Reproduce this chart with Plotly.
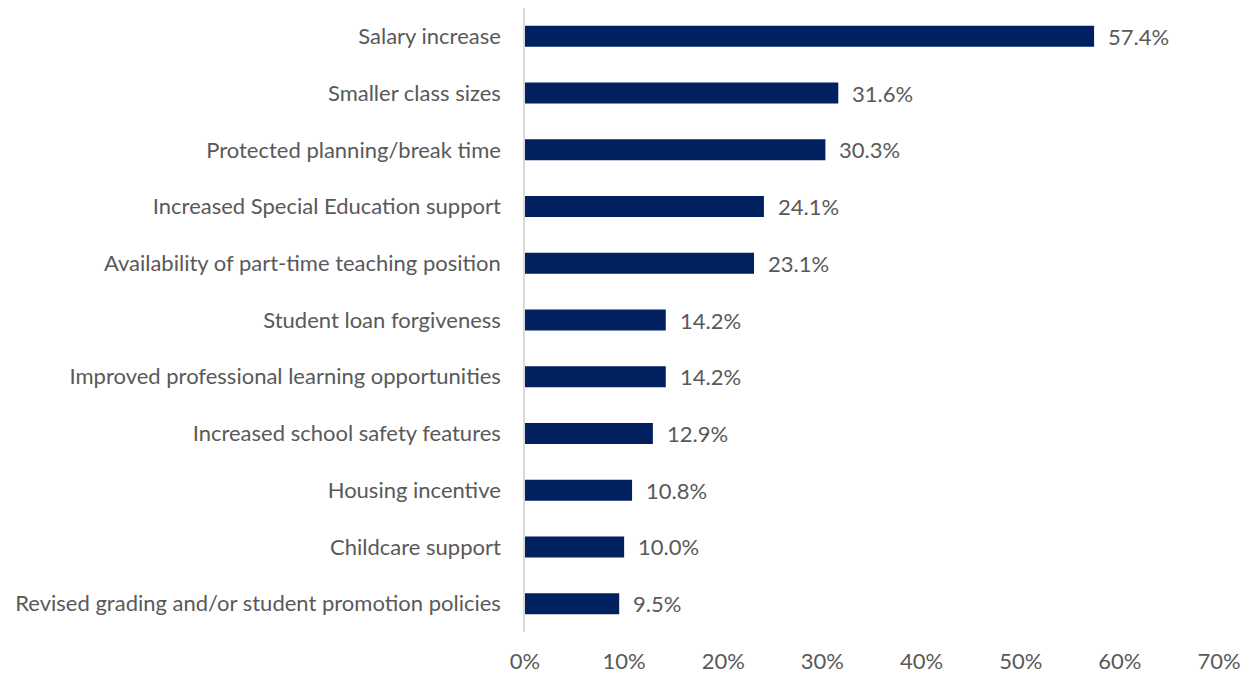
import plotly.graph_objects as go

# Survey items, listed top to bottom
categories = [
    "Salary increase",
    "Smaller class sizes",
    "Protected planning/break time",
    "Increased Special Education support",
    "Availability of part-time teaching position",
    "Student loan forgiveness",
    "Improved professional learning opportunities",
    "Increased school safety features",
    "Housing incentive",
    "Childcare support",
    "Revised grading and/or student promotion policies",
]
shares = [57.4, 31.6, 30.3, 24.1, 23.1, 14.2, 14.2, 12.9, 10.8, 10.0, 9.5]
x_ticks = [0, 10, 20, 30, 40, 50, 60, 70]
x_tick_labels = [f"{t}%" for t in x_ticks]

FONT = "Lato"
FONT_SIZE = 22
TEXT_COLOR = "#595959"
BAR_COLOR = "#002060"

# Plot bottom-up so the first item sits at the top
cats_r = categories[::-1]
vals_r = shares[::-1]

fig = go.Figure(
    go.Bar(
        x=vals_r,
        y=cats_r,
        orientation="h",
        marker=dict(color=BAR_COLOR, line=dict(width=0)),
        width=0.37,
        hoverinfo="skip",
    )
)

for c, v in zip(cats_r, vals_r):
    fig.add_annotation(
        x=v, y=c, text=f"{v:.1f}%", showarrow=False,
        xanchor="left", xshift=12,
        font=dict(family=FONT, size=FONT_SIZE, color=TEXT_COLOR),
    )

fig.update_layout(
    width=1248, height=675,
    margin=dict(l=525, r=29, t=8, b=43),
    paper_bgcolor="white", plot_bgcolor="white",
    showlegend=False,
    font=dict(family=FONT, size=FONT_SIZE, color=TEXT_COLOR),
    xaxis=dict(
        range=[0, 70], tickvals=x_ticks, ticktext=x_tick_labels,
        showgrid=False, zeroline=False, showline=False,
        ticklabelstandoff=14, fixedrange=True, automargin=False,
    ),
    yaxis=dict(
        categoryorder="array", categoryarray=cats_r,
        showgrid=False, zeroline=False,
        showline=True, linecolor="#d9d9d9", linewidth=1.5,
        ticklabelstandoff=18, fixedrange=True, automargin=False,
    ),
)

fig.write_html("out.html")
